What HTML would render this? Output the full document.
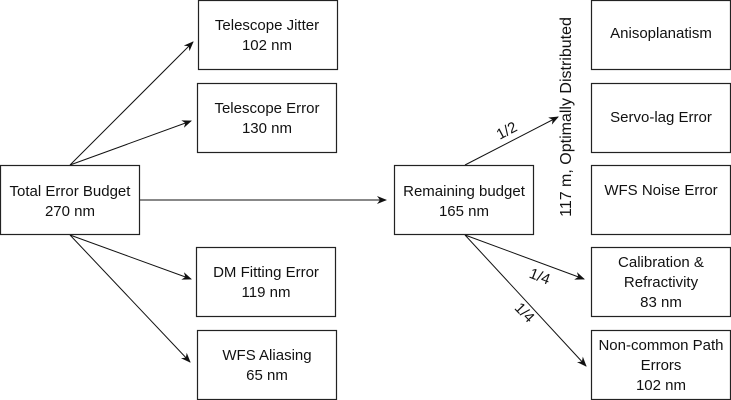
<!DOCTYPE html>
<html><head><meta charset="utf-8"><style>
html,body{margin:0;padding:0;background:#fff;}
svg{display:block;}
text{font-family:"Liberation Sans",sans-serif;font-size:15px;fill:#111;}
rect{fill:#fff;stroke:#222;stroke-width:1.2;}
line{stroke:#111;stroke-width:1;}
</style></head><body>
<svg width="731" height="400" viewBox="0 0 731 400" xmlns="http://www.w3.org/2000/svg">
<defs><marker id="a" markerWidth="10" markerHeight="8" refX="9" refY="4" orient="auto" markerUnits="userSpaceOnUse"><path d="M0,0 L10,4 L0,8 L3,4 Z" fill="#111"/></marker></defs>
<line x1="70" y1="165" x2="193" y2="42" marker-end="url(#a)"/>
<line x1="70" y1="165" x2="191" y2="121" marker-end="url(#a)"/>
<line x1="70" y1="235" x2="191" y2="279" marker-end="url(#a)"/>
<line x1="70" y1="235" x2="190" y2="362" marker-end="url(#a)"/>
<line x1="139" y1="200" x2="386" y2="200" marker-end="url(#a)"/>
<line x1="465" y1="165" x2="558" y2="117" marker-end="url(#a)"/>
<line x1="465" y1="235" x2="584" y2="279" marker-end="url(#a)"/>
<line x1="465" y1="235" x2="586" y2="366" marker-end="url(#a)"/>
<rect x="0.5" y="165.5" width="139" height="69"/>
<rect x="198.5" y="0.5" width="139" height="69"/>
<rect x="197.5" y="83.5" width="139" height="69"/>
<rect x="196.5" y="247.5" width="139" height="69"/>
<rect x="197.5" y="330.5" width="139" height="69"/>
<rect x="394.5" y="165.5" width="139" height="69"/>
<rect x="591.5" y="0.5" width="139" height="69"/>
<rect x="591.5" y="83.5" width="139" height="69"/>
<rect x="591.5" y="165.5" width="139" height="69"/>
<rect x="591.5" y="247.5" width="139" height="69"/>
<rect x="591.5" y="330.5" width="139" height="69"/>
<g text-anchor="middle">
<text x="70" y="196">Total Error Budget</text><text x="70" y="216">270 nm</text>
<text x="267" y="30">Telescope Jitter</text><text x="267" y="50">102 nm</text>
<text x="267" y="113">Telescope Error</text><text x="267" y="133">130 nm</text>
<text x="266" y="277">DM Fitting Error</text><text x="266" y="297">119 nm</text>
<text x="267" y="360">WFS Aliasing</text><text x="267" y="380">65 nm</text>
<text x="464" y="196">Remaining budget</text><text x="464" y="216">165 nm</text>
<text x="661" y="38">Anisoplanatism</text>
<text x="661" y="122">Servo-lag Error</text>
<text x="661" y="195">WFS Noise Error</text>
<text x="661" y="267">Calibration &amp;</text><text x="661" y="287">Refractivity</text><text x="661" y="307">83 nm</text>
<text x="661" y="350">Non-common Path</text><text x="661" y="370">Errors</text><text x="661" y="390">102 nm</text>
<text transform="translate(571,117) rotate(-90)" style="font-size:16px">117 m, Optimally Distributed</text>
<text transform="translate(509,135) rotate(-28)">1/2</text>
<text transform="translate(538,281) rotate(21)">1/4</text>
<text transform="translate(521,316) rotate(46)">1/4</text>
</g>
</svg>
</body></html>
